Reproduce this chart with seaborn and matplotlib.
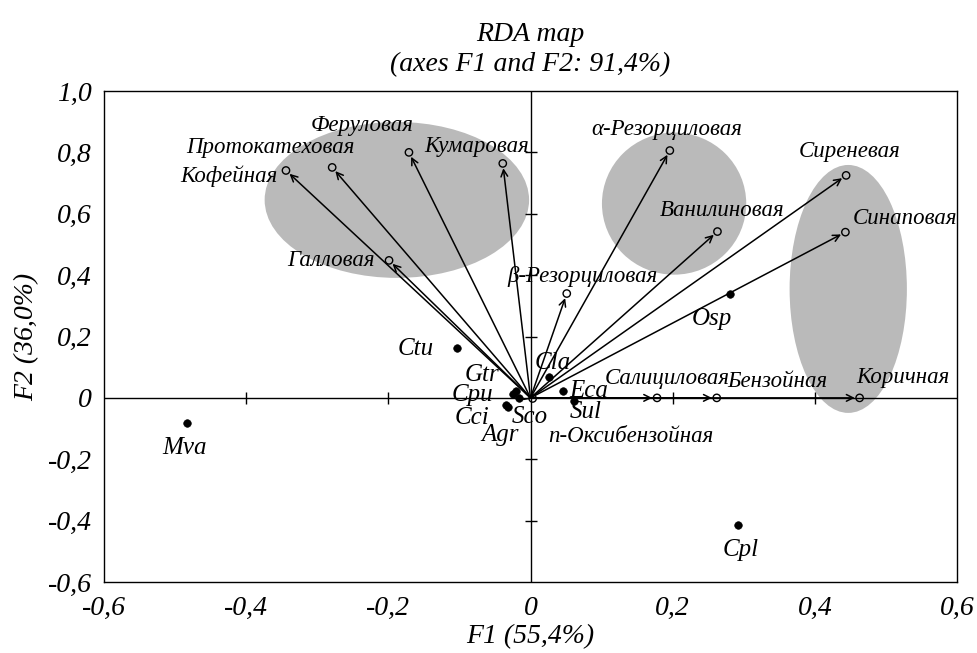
import seaborn as sns
import matplotlib.pyplot as plt
from matplotlib.patches import Ellipse
import pandas as pd

# Acid vectors (arrow tips)
acids = ["Кофейная", "Протокатеховая", "Феруловая", "Кумаровая", "Галловая",
         "α-Резорциловая", "Ванилиновая", "Сиреневая", "Синаповая", "β-Резорциловая",
         "Салициловая", "Бензойная", "Коричная", "n-Оксибензойная"]
acid_f1 = [-0.344, -0.279, -0.171, -0.039, -0.199, 0.196, 0.263, 0.444, 0.443, 0.051,
           0.178, 0.262, 0.463, 0.003]
acid_f2 = [0.741, 0.751, 0.800, 0.764, 0.448, 0.806, 0.542, 0.725, 0.540, 0.340,
           0.0, 0.0, 0.0, -0.002]

# Species points
sites = ["Ctu", "Gtr", "Cpu", "Cci", "Agr", "Sco", "Cla", "Eca", "Sul", "Osp", "Mva", "Cpl"]
site_f1 = [-0.103, -0.020, -0.024, -0.034, -0.032, -0.016, 0.026, 0.046, 0.061, 0.281, -0.483, 0.292]
site_f2 = [0.161, 0.021, 0.011, -0.024, -0.031, -0.002, 0.067, 0.024, -0.011, 0.337, -0.083, -0.415]

# Shaded groups (centre f1, centre f2, width, height)
group_f1 = [-0.188, 0.202, 0.447]
group_f2 = [0.645, 0.633, 0.355]
group_w = [0.372, 0.203, 0.165]
group_h = [0.508, 0.463, 0.808]

xticks = [-0.6, -0.4, -0.2, 0, 0.2, 0.4, 0.6]
yticks = [-0.6, -0.4, -0.2, 0, 0.2, 0.4, 0.6, 0.8, 1.0]

# label offsets in pixels (dx, dy, ha)
acid_off = {
    "Кофейная": (-8, -6, "right"), "Протокатеховая": (-62, 20, "center"),
    "Феруловая": (-47, 27, "center"), "Кумаровая": (-26, 17, "center"),
    "Галловая": (-14, 0, "right"), "α-Резорциловая": (-3, 21, "center"),
    "Ванилиновая": (5, 21, "center"), "Сиреневая": (3, 24, "center"),
    "Синаповая": (7, 14, "left"), "β-Резорциловая": (16, 17, "center"),
    "Салициловая": (-52, 19, "left"), "Бензойная": (11, 16, "left"),
    "Коричная": (-3, 20, "left"), "n-Оксибензойная": (98, -38, "center"),
}
site_off = {
    "Ctu": (-24, -1, "right"), "Gtr": (-34, 16, "center"), "Cpu": (-41, -1, "center"),
    "Cci": (-34, -13, "center"), "Agr": (-8, -28, "center"), "Sco": (11, -19, "center"),
    "Cla": (4, 14, "center"), "Eca": (6, 0, "left"), "Sul": (12, -11, "center"),
    "Osp": (-18, -25, "center"), "Mva": (-3, -25, "center"), "Cpl": (3, -25, "center"),
}

def fmt(v):
    if v == 0:
        return "0"
    return f"{v:.1f}".replace(".", ",")


sns.set_style("white")
plt.rcParams['font.family'] = ['Liberation Serif', 'DejaVu Serif']
plt.rcParams['font.style'] = 'italic'
plt.rcParams['text.color'] = 'black'
plt.rcParams['axes.labelcolor'] = 'black'
plt.rcParams['xtick.color'] = 'black'
plt.rcParams['ytick.color'] = 'black'

fig, ax = plt.subplots(figsize=(9.77, 6.53), dpi=100)
fig.subplots_adjust(left=104/977, right=957/977, top=1-91/653, bottom=1-582/653)

acid_df = pd.DataFrame({"name": acids, "F1": acid_f1, "F2": acid_f2})
site_df = pd.DataFrame({"name": sites, "F1": site_f1, "F2": site_f2})

for cx, cy, w, h in zip(group_f1, group_f2, group_w, group_h):
    ax.add_patch(Ellipse((cx, cy), w, h, facecolor="#bababa", edgecolor="none", zorder=0))

ax.axhline(0, color="black", lw=1, zorder=1)
ax.axvline(0, color="black", lw=1, zorder=1)
# little cross ticks on the zero lines
inner_x = [t for t in xticks if t not in (0, -0.6, 0.6)]
inner_y = [t for t in yticks if t not in (0, -0.6, 1.0)]
ax.plot(inner_x, [0] * len(inner_x), ls="none", marker="|", ms=9, mew=1, color="black")
ax.plot([0] * len(inner_y), inner_y, ls="none", marker="_", ms=9, mew=1, color="black")

for _, r in acid_df.iterrows():
    ax.annotate("", xy=(r.F1, r.F2), xytext=(0, 0),
                arrowprops=dict(arrowstyle="->", lw=1.1, color="black",
                                shrinkA=0, shrinkB=3.5, mutation_scale=12))
sns.scatterplot(data=acid_df, x="F1", y="F2", ax=ax, marker="o", s=28,
                facecolor="none", edgecolor="black", linewidth=1, zorder=3)
sns.scatterplot(data=site_df, x="F1", y="F2", ax=ax, marker="o", s=30,
                color="black", edgecolor="black", zorder=3)

for _, r in acid_df.iterrows():
    dx, dy, ha = acid_off[r["name"]]
    ax.annotate(r["name"], (r.F1, r.F2), xytext=(dx, dy), textcoords="offset pixels",
                ha=ha, va="center", fontsize=16.5)
for _, r in site_df.iterrows():
    dx, dy, ha = site_off[r["name"]]
    ax.annotate(r["name"], (r.F1, r.F2), xytext=(dx, dy), textcoords="offset pixels",
                ha=ha, va="center", fontsize=18)

ax.set_xlim(-0.6, 0.6)
ax.set_ylim(-0.6, 1.0)
ax.set_xticks(xticks, [fmt(t) for t in xticks])
ax.set_yticks(yticks, [fmt(t) for t in yticks])
ax.tick_params(axis="x", length=0, pad=10, labelsize=20)
ax.tick_params(axis="y", length=0, pad=9, labelsize=20)
for s in ax.spines.values():
    s.set_color("black")
    s.set_linewidth(1)

ax.set_xlabel("F1 (55,4%)", fontsize=20, labelpad=2)
ax.set_ylabel("F2 (36,0%)", fontsize=20, labelpad=6)
ax.set_title("RDA map\n(axes F1 and F2: 91,4%)", fontsize=20, pad=14, linespacing=1.3)

fig.savefig("out.png", dpi=100)
